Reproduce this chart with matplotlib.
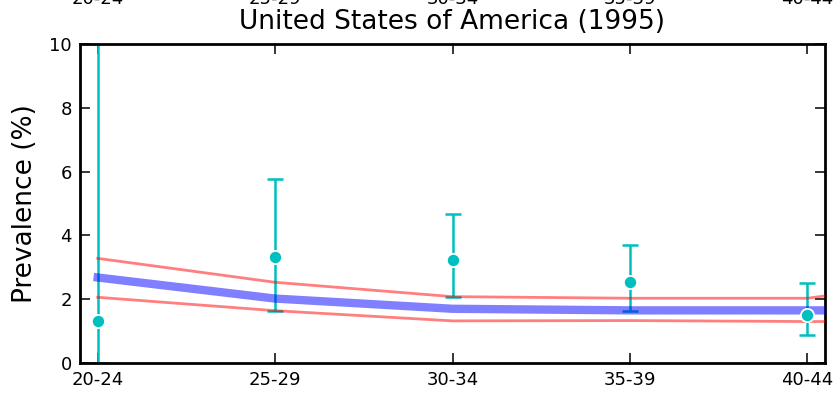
import matplotlib
matplotlib.use("Agg")
import matplotlib.pyplot as plt
import numpy as np

# ---- data ----
age_groups = ["20-24", "25-29", "30-34", "35-39", "40-44"]
obs_value = [1.32, 3.31, 3.23, 2.53, 1.50]
obs_lower = [0.00, 1.64, 2.08, 1.63, 0.88]
obs_upper = [12.0, 5.77, 4.67, 3.70, 2.52]

model_groups = ["20-24", "25-29", "30-34", "35-39", "40-44", "45-49"]
model_mean = [2.68, 2.02, 1.70, 1.65, 1.65, 1.65]
model_upper = [3.28, 2.53, 2.08, 2.03, 2.03, 2.75]
model_lower = [2.06, 1.64, 1.32, 1.33, 1.30, 1.30]

title = "United States of America (1995)"
ylabel = "Prevalence (%)"
yticks = [0, 2, 4, 6, 8, 10]

# ---- figure ----
W, H = 837, 393
fig = plt.figure(figsize=(W / 100, H / 100), dpi=100)
L, R, T, B = 80, 825, 44, 363
ax = fig.add_axes([L / W, (H - B) / H, (R - L) / W, (B - T) / H])

x_obs = np.arange(len(age_groups))
x_mod = np.arange(len(model_groups))
val = np.array(obs_value)
err = np.vstack([val - np.array(obs_lower), np.array(obs_upper) - val])

cyan = (0.0, 0.75, 0.75)
ax.errorbar(x_obs, val, yerr=err, fmt="none", ecolor=cyan, elinewidth=1.8,
            capsize=5.8, capthick=1.8, zorder=2)

ax.plot(x_mod, model_upper, color="red", alpha=0.5, lw=2.0, zorder=3)
ax.plot(x_mod, model_lower, color="red", alpha=0.5, lw=2.0, zorder=3)
ax.plot(x_mod, model_mean, color="blue", alpha=0.5, lw=6.0, zorder=3,
        solid_capstyle="projecting")

ax.plot(x_obs, val, "o", color=cyan, markersize=9.5, markeredgecolor="white",
        markeredgewidth=1.3, zorder=4, linestyle="none")

ax.set_xlim(-0.1, 4.1)
ax.set_ylim(0, 10)
ax.set_xticks(x_obs)
ax.set_xticklabels(age_groups)
ax.set_yticks(yticks)
ax.tick_params(direction="in", length=7.5, width=1.1, labelsize=13,
               top=True, right=True)
ax.tick_params(axis="x", pad=6)
ax.tick_params(axis="y", pad=6)
for s in ax.spines.values():
    s.set_linewidth(2.0)

sec = ax.secondary_xaxis("top")
sec.set_xticks(x_obs)
sec.set_xticklabels(age_groups)
sec.tick_params(length=0, pad=26, labelsize=13)
sec.spines["top"].set_visible(False)

ax.set_ylabel(ylabel, fontsize=19)
ax.yaxis.set_label_coords(-0.056, 0.5)
ax.set_title(title, fontsize=19, y=1 + 15 / (B - T), pad=0)

fig.savefig("out.png", dpi=100)
